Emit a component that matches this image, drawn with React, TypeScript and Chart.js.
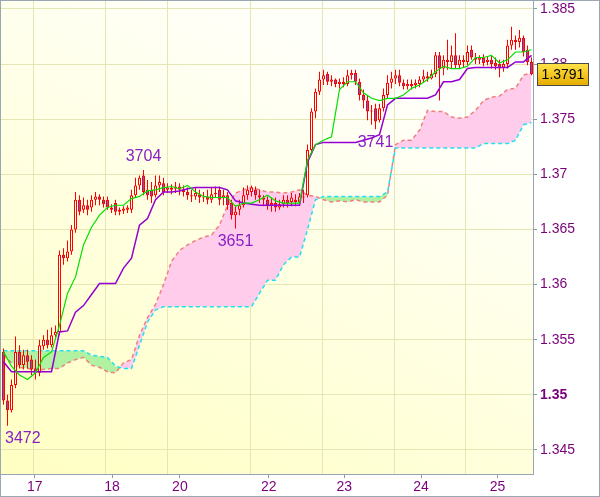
import { useEffect, useRef } from "react";
import { Chart, registerables } from "chart.js";

Chart.register(...registerables);

const FONT = 'Arial, "Liberation Sans", sans-serif';

// ---- Candles (index 0..132) ----
const candleOpen = [
  1.3539, 1.3495, 1.3486, 1.3509, 1.3539, 1.3527, 1.3536, 1.3532, 1.3524, 1.352,
  1.3544, 1.355, 1.3545, 1.3554, 1.3557, 1.3627, 1.3624, 1.363, 1.365, 1.3677,
  1.3668, 1.3672, 1.367, 1.3677, 1.368, 1.3677, 1.3677, 1.367, 1.3674, 1.3668,
  1.3667, 1.3668, 1.3668, 1.3681, 1.369, 1.3699, 1.3686, 1.3686, 1.3681, 1.369,
  1.3692, 1.3686, 1.3688, 1.3687, 1.3689, 1.3686, 1.3684, 1.3681, 1.368, 1.3682,
  1.3679, 1.368, 1.3677, 1.3682, 1.3686, 1.3679, 1.3681, 1.3674, 1.3663, 1.3668,
  1.3672, 1.3681, 1.3684, 1.3686, 1.3681, 1.3679, 1.3677, 1.3672, 1.3674, 1.367,
  1.3673, 1.3677, 1.3675, 1.3677, 1.3675, 1.3679, 1.3681, 1.3722, 1.3757, 1.3775,
  1.3786, 1.3791, 1.3784, 1.3786, 1.3782, 1.3784, 1.3782, 1.379, 1.3792, 1.3784,
  1.3772, 1.3767, 1.3757, 1.376, 1.3749, 1.376, 1.3772, 1.3783, 1.3787, 1.379,
  1.3783, 1.378, 1.3782, 1.3781, 1.3782, 1.3786, 1.3789, 1.3787, 1.3791, 1.3808,
  1.3796, 1.3804, 1.3802, 1.3808, 1.3799, 1.3804, 1.3802, 1.3813, 1.3806, 1.3804,
  1.3806, 1.3802, 1.3804, 1.3801, 1.38, 1.3797, 1.38, 1.3817, 1.3822, 1.382,
  1.3824, 1.3813, 1.3802,
];
const candleHigh = [
  1.3542, 1.35, 1.3514, 1.3553, 1.3545, 1.3541, 1.3541, 1.3536, 1.3532, 1.355,
  1.3554, 1.3559, 1.3561, 1.3563, 1.3631, 1.3633, 1.364, 1.3654, 1.3684, 1.3681,
  1.3679, 1.3677, 1.3681, 1.3684, 1.3682, 1.368, 1.368, 1.3673, 1.3677, 1.367,
  1.3671, 1.3672, 1.3686, 1.3697, 1.3699, 1.3704, 1.3695, 1.3693, 1.3699, 1.3699,
  1.3697, 1.3692, 1.3691, 1.3693, 1.3692, 1.369, 1.3688, 1.3686, 1.3688, 1.3686,
  1.3684, 1.3686, 1.3688, 1.3689, 1.3689, 1.3686, 1.3684, 1.3677, 1.3672, 1.3677,
  1.3688, 1.369, 1.369, 1.3689, 1.3686, 1.3681, 1.368, 1.3679, 1.3679, 1.3677,
  1.3681, 1.3681, 1.3683, 1.3682, 1.3683, 1.3686, 1.3727, 1.376, 1.3778, 1.3793,
  1.3795, 1.3793, 1.379, 1.3787, 1.3787, 1.3788, 1.3795, 1.3795, 1.3795, 1.3787,
  1.3777, 1.3772, 1.3763, 1.3764, 1.3764, 1.3778, 1.379, 1.3793, 1.3795, 1.3795,
  1.3786, 1.3786, 1.3786, 1.3786, 1.3789, 1.3795, 1.3793, 1.3795, 1.3811, 1.3811,
  1.3808, 1.3822, 1.3817, 1.3828, 1.3808, 1.3808, 1.3817, 1.3817, 1.381, 1.3808,
  1.3809, 1.3807, 1.3808, 1.3806, 1.3804, 1.3804, 1.3822, 1.3834, 1.3826, 1.3831,
  1.3826, 1.3817, 1.3806,
];
const candleLow = [
  1.3491, 1.3472, 1.3484, 1.3506, 1.3524, 1.3523, 1.3524, 1.3518, 1.3514, 1.3517,
  1.3541, 1.3542, 1.3543, 1.3552, 1.3554, 1.3618, 1.3621, 1.3627, 1.3647, 1.3663,
  1.3665, 1.3663, 1.3666, 1.3672, 1.3672, 1.367, 1.3668, 1.3665, 1.3663, 1.3663,
  1.3664, 1.3665, 1.3665, 1.3679, 1.3686, 1.3681, 1.3677, 1.3674, 1.3679, 1.3684,
  1.3681, 1.3683, 1.3682, 1.3683, 1.3681, 1.368, 1.3677, 1.3675, 1.3677, 1.3674,
  1.3675, 1.3673, 1.3674, 1.3679, 1.3672, 1.3672, 1.3668, 1.3659, 1.3651, 1.3663,
  1.367, 1.3677, 1.368, 1.3677, 1.3674, 1.3671, 1.3668, 1.3666, 1.3666, 1.3668,
  1.367, 1.367, 1.3671, 1.3671, 1.3672, 1.3674, 1.3679, 1.372, 1.3751, 1.3772,
  1.3781, 1.3781, 1.378, 1.3779, 1.3778, 1.3779, 1.378, 1.3786, 1.3781, 1.3767,
  1.376, 1.3749, 1.3745, 1.3741, 1.3747, 1.3757, 1.3769, 1.3778, 1.3782, 1.378,
  1.3777, 1.3777, 1.3777, 1.3778, 1.3779, 1.3783, 1.3784, 1.3786, 1.3788, 1.3767,
  1.379, 1.3795, 1.3796, 1.3796, 1.3796, 1.3797, 1.3799, 1.3804, 1.38, 1.38,
  1.3798, 1.3799, 1.3796, 1.3795, 1.3788, 1.3793, 1.3796, 1.3813, 1.3813, 1.3815,
  1.3807, 1.3799, 1.379,
];
const candleClose = [
  1.3495, 1.3486, 1.3509, 1.3539, 1.3527, 1.3536, 1.353, 1.3523, 1.352, 1.3545,
  1.355, 1.3545, 1.3554, 1.3557, 1.3627, 1.3624, 1.363, 1.365, 1.3677, 1.3666,
  1.3672, 1.3668, 1.3677, 1.368, 1.3677, 1.3673, 1.367, 1.3668, 1.3666, 1.3666,
  1.3669, 1.367, 1.3681, 1.369, 1.3697, 1.3684, 1.3681, 1.368, 1.369, 1.3693,
  1.3684, 1.3688, 1.3686, 1.3689, 1.3686, 1.3684, 1.3681, 1.368, 1.3683, 1.3679,
  1.368, 1.3677, 1.3682, 1.3683, 1.3677, 1.3681, 1.3672, 1.3663, 1.3666, 1.3672,
  1.3681, 1.3686, 1.3688, 1.3681, 1.3679, 1.3677, 1.3672, 1.3674, 1.367, 1.3673,
  1.3677, 1.3674, 1.3679, 1.3675, 1.368, 1.368, 1.3722, 1.3757, 1.3775, 1.3786,
  1.379, 1.3784, 1.3786, 1.3782, 1.3784, 1.3782, 1.379, 1.3792, 1.3784, 1.3772,
  1.3767, 1.3757, 1.3758, 1.3748, 1.376, 1.3772, 1.3783, 1.3787, 1.379, 1.3783,
  1.378, 1.3782, 1.378, 1.3783, 1.3786, 1.3789, 1.3787, 1.3791, 1.3808, 1.3796,
  1.3804, 1.3802, 1.3808, 1.3799, 1.3804, 1.3802, 1.3811, 1.3806, 1.3804, 1.3806,
  1.3801, 1.3804, 1.38, 1.3798, 1.3796, 1.38, 1.3817, 1.3822, 1.382, 1.3824,
  1.3811, 1.3802, 1.3791,
];

// ---- Ichimoku lines, sampled at every second bar ----
const lineIndex = [
  0, 2, 4, 6, 8, 10, 12, 14, 16, 18, 20, 22, 24, 26, 28, 30, 32, 34, 36, 38,
  40, 42, 44, 46, 48, 50, 52, 54, 56, 58, 60, 62, 64, 66, 68, 70, 72, 74, 76, 78,
  80, 82, 84, 86, 88, 90, 92, 94, 96, 98, 100, 102, 104, 106, 108, 110, 112, 114, 116, 118,
  120, 122, 124, 126, 128, 130, 132,
];
const tenkan = [
  1.3539, 1.3526, 1.3518, 1.3514, 1.352, 1.3534, 1.3539, 1.3563, 1.3592, 1.3607,
  1.3636, 1.3652, 1.3663, 1.367, 1.3672, 1.3672, 1.3678, 1.368, 1.3685, 1.3686,
  1.3688, 1.3689, 1.3687, 1.369, 1.3684, 1.368, 1.3679, 1.3679, 1.3679, 1.3671,
  1.3674, 1.3674, 1.3677, 1.3681, 1.3676, 1.3674, 1.3674, 1.3674, 1.3713, 1.3727,
  1.3731, 1.3734, 1.3777, 1.3784, 1.3784, 1.3774, 1.3769, 1.3767, 1.3769, 1.3769,
  1.3772, 1.3778, 1.3781, 1.3786, 1.3793, 1.3798, 1.3796, 1.3796, 1.3798, 1.3806,
  1.3806, 1.3808, 1.3801, 1.3804, 1.3811, 1.3811, 1.3813,
];
const kijun = [
  1.353, 1.3521, 1.3521, 1.3521, 1.3521, 1.3521, 1.3521, 1.3557, 1.3558, 1.3575,
  1.3581, 1.3591, 1.3601, 1.3601, 1.3601, 1.3615, 1.3624, 1.3654, 1.366, 1.3677,
  1.3684, 1.3684, 1.3685, 1.3687, 1.3688, 1.3688, 1.3688, 1.3688, 1.3686, 1.3676,
  1.3674, 1.3673, 1.3672, 1.3672, 1.3672, 1.3672, 1.3672, 1.3672, 1.3711, 1.3727,
  1.3729, 1.3729, 1.3729, 1.3729, 1.3729, 1.3731, 1.3733, 1.3736, 1.3763, 1.3769,
  1.3769, 1.3769, 1.3769, 1.3769, 1.3772, 1.3784, 1.3784, 1.3786, 1.3796, 1.3797,
  1.3797, 1.3797, 1.3797, 1.3797, 1.3802, 1.3802, 1.3808,
];
const senkouA = [
  1.3536, 1.3529, 1.3525, 1.3524, 1.3523, 1.3523, 1.3524, 1.3524, 1.3529, 1.3532,
  1.3534, 1.3527, 1.3525, 1.3521, 1.352, 1.3529, 1.3532, 1.3554, 1.357, 1.3582,
  1.36, 1.3621, 1.3631, 1.3636, 1.364, 1.3643, 1.3645, 1.3654, 1.3672, 1.3683,
  1.3686, 1.3688, 1.3686, 1.3684, 1.3684, 1.3683, 1.3684, 1.3686, 1.3681, 1.368,
  1.3677, 1.3675, 1.3676, 1.3675, 1.3677, 1.3675, 1.3675, 1.3675, 1.3681, 1.3727,
  1.3731, 1.3731, 1.374, 1.3758, 1.3757, 1.3757, 1.3752, 1.3751, 1.3752, 1.3758,
  1.3767, 1.377, 1.3771, 1.3777, 1.3778, 1.379, 1.3792,
];
const senkouB = [
  1.354, 1.354, 1.354, 1.354, 1.354, 1.354, 1.354, 1.354, 1.354, 1.354,
  1.354, 1.3536, 1.3535, 1.3534, 1.3526, 1.3524, 1.3524, 1.3545, 1.3566, 1.3577,
  1.358, 1.358, 1.358, 1.358, 1.358, 1.358, 1.358, 1.358, 1.358, 1.358,
  1.358, 1.358, 1.3592, 1.3604, 1.3604, 1.3618, 1.3625, 1.3625, 1.365, 1.3677,
  1.368, 1.368, 1.368, 1.368, 1.368, 1.368, 1.368, 1.368, 1.3684, 1.3724,
  1.3724, 1.3724, 1.3724, 1.3724, 1.3724, 1.3724, 1.3724, 1.3724, 1.3724, 1.3724,
  1.3728, 1.3728, 1.3728, 1.3728, 1.3731, 1.3745, 1.3747,
];

// ---- Axes ----
const yTicks = [1.345, 1.35, 1.355, 1.36, 1.365, 1.37, 1.375, 1.38, 1.385];
const gridIndex = [7.55, 25.5, 41.0, 61.8, 79.8, 97.7, 115.6];
const dayIndex = [7.8, 27.15, 44.1, 66.3, 85.2, 104.4, 123.5];
const dayLabels = ["17", "18", "20", "22", "23", "24", "25"];

// ---- Price notes ----
const noteIndex = [1, 35, 58, 93];
const notePrice = [1.3472, 1.3704, 1.3651, 1.3741];
const noteAbove = [false, true, false, false];

export default function App() {
  const ref = useRef<HTMLCanvasElement | null>(null);

  useEffect(() => {
    document.body.style.margin = "0";
    const canvas = ref.current;
    if (!canvas) return;

    const n = candleClose.length;
    const wickData = [];
    const bodyData = [];
    const bodyColors = [];
    for (let i = 0; i < n; i++) {
      wickData.push({ x: i, y: [candleLow[i], candleHigh[i]] });
      bodyData.push({ x: i, y: [candleOpen[i], candleClose[i]] });
      bodyColors.push(candleClose[i] < candleOpen[i] ? "#6a5acd" : "#ffffe6");
    }
    const toPts = (arr: number[]) => arr.map((v, k) => ({ x: lineIndex[k], y: v }));

    const bgPlugin = {
      id: "bg",
      beforeDraw(chart: any) {
        const { ctx, chartArea: a, width, height } = chart;
        ctx.save();
        ctx.fillStyle = "#ffffff";
        ctx.fillRect(0, 0, width, height);
        const g = ctx.createLinearGradient(a.left, a.bottom, a.left + a.width * 0.45, a.top);
        g.addColorStop(0, "#ffffc2");
        g.addColorStop(1, "#fffffa");
        ctx.fillStyle = g;
        ctx.fillRect(a.left, a.top, a.width, a.height);
        ctx.restore();
      },
    };

    const overlayPlugin = {
      id: "overlay",
      afterDraw(chart: any) {
        const { ctx, scales, width, height } = chart;
        const xs = scales.x;
        const ys = scales.y;
        ctx.save();
        ctx.font = `16px ${FONT}`;
        ctx.fillStyle = "#8a1fc6";
        ctx.textBaseline = "middle";
        ctx.textAlign = "center";
        for (let i = 0; i < noteIndex.length; i++) {
          const txt = notePrice[i].toFixed(4).slice(-4);
          const w = ctx.measureText(txt).width;
          let x = xs.getPixelForValue(noteIndex[i]);
          if (x - w / 2 < 5) x = 5 + w / 2;
          const y = ys.getPixelForValue(notePrice[i]) + (noteAbove[i] ? -13 : 13);
          ctx.fillText(txt, x, y);
        }
        const last = candleClose[candleClose.length - 1];
        const py = Math.round(ys.getPixelForValue(last));
        const bx = 537.5, bw = 51, bh = 22;
        const by = py - 11 + 0.5;
        const g = ctx.createLinearGradient(0, by, 0, by + bh);
        g.addColorStop(0, "#ffe34a");
        g.addColorStop(1, "#e6ac00");
        ctx.fillStyle = g;
        ctx.fillRect(bx, by, bw, bh);
        ctx.strokeStyle = "#4a4a4a";
        ctx.lineWidth = 1;
        ctx.strokeRect(bx, by, bw, bh);
        ctx.fillStyle = "#000000";
        ctx.font = `14px ${FONT}`;
        ctx.textAlign = "center";
        ctx.fillText(last.toFixed(4), bx + bw / 2, py + 1);
        ctx.strokeStyle = "#9aa6b2";
        ctx.strokeRect(0.5, 0.5, width - 1, height - 1);
        ctx.restore();
      },
    };

    const chart = new Chart(canvas, {
      type: "line",
      data: {
        datasets: [
          {
            type: "line",
            data: toPts(tenkan),
            borderColor: "#00e000",
            borderWidth: 1.2,
            pointRadius: 0,
            order: 1,
          },
          {
            type: "line",
            data: toPts(kijun),
            borderColor: "#9400d3",
            borderWidth: 1.5,
            pointRadius: 0,
            order: 1,
          },
          {
            type: "line",
            data: toPts(senkouA),
            borderColor: "#f08080",
            borderDash: [4, 3],
            borderWidth: 1.5,
            pointRadius: 0,
            fill: { target: 3, above: "#ffccec", below: "#b0f2a2" },
            order: 10,
          },
          {
            type: "line",
            data: toPts(senkouB),
            borderColor: "#22e0f0",
            borderDash: [4, 3],
            borderWidth: 1.5,
            pointRadius: 0,
            order: 9,
          },
          {
            type: "bar",
            data: wickData,
            backgroundColor: "#ff0000",
            borderWidth: 0,
            barThickness: 1,
            grouped: false,
            inflateAmount: 0,
            order: 5,
          } as any,
          {
            type: "bar",
            data: bodyData,
            backgroundColor: bodyColors,
            borderColor: "#ff0000",
            borderWidth: 1,
            borderSkipped: false,
            barThickness: 3,
            grouped: false,
            inflateAmount: 0,
            order: 4,
          } as any,
        ],
      },
      options: {
        responsive: false,
        animation: false,
        devicePixelRatio: 1,
        events: [],
        layout: { padding: 0 },
        plugins: { legend: { display: false }, tooltip: { enabled: false } },
        scales: {
          x: {
            type: "linear",
            position: "bottom",
            offset: false,
            min: -0.875,
            max: 132.375,
            afterBuildTicks: (axis: any) => {
              axis.ticks = gridIndex.map((v) => ({ value: v }));
            },
            afterFit: (axis: any) => {
              axis.height = 0;
              axis.paddingLeft = 0;
              axis.paddingRight = 0;
            },
            ticks: { display: false },
            grid: { color: "#e6e6b4", drawTicks: false, lineWidth: 1, offset: false },
            border: { display: false },
          },
          x2: {
            type: "linear",
            position: "bottom",
            offset: false,
            min: -0.875,
            max: 132.375,
            afterBuildTicks: (axis: any) => {
              axis.ticks = dayIndex.map((v) => ({ value: v }));
            },
            afterFit: (axis: any) => {
              axis.height = 23;
              axis.paddingLeft = 0;
              axis.paddingRight = 0;
            },
            ticks: {
              autoSkip: false,
              maxRotation: 0,
              padding: 1,
              color: "#7a007a",
              font: { family: FONT, size: 14 },
              callback: (_v: any, i: number) => dayLabels[i],
            },
            grid: { drawOnChartArea: false, drawTicks: true, tickLength: 4, tickColor: "#8898a8", offset: false },
            border: { display: true, color: "#9aa6b2" },
          },
          y: {
            type: "linear",
            position: "right",
            min: 1.342823,
            max: 1.385816,
            afterBuildTicks: (axis: any) => {
              axis.ticks = yTicks.map((v) => ({ value: v }));
            },
            afterFit: (axis: any) => {
              axis.width = 67;
              axis.paddingTop = 0;
              axis.paddingBottom = 0;
            },
            ticks: {
              padding: 3,
              color: "#7a007a",
              font: (c: any) => ({
                family: FONT,
                size: 14,
                weight: c.tick && Math.abs(c.tick.value - 1.35) < 1e-9 ? "bold" : "normal",
              }),
              callback: (v: any) => String(+Number(v).toFixed(3)),
            },
            grid: { color: "#e6e6b4", tickLength: 4, tickColor: "#8898a8" },
            border: { display: true, color: "#9aa6b2" },
          },
        },
      } as any,
      plugins: [bgPlugin, overlayPlugin],
    });

    return () => chart.destroy();
  }, []);

  return (
    <div style={{ position: "absolute", left: 0, top: 0, width: 600, height: 497 }}>
      <canvas ref={ref} width={600} height={497} style={{ display: "block" }} />
    </div>
  );
}
